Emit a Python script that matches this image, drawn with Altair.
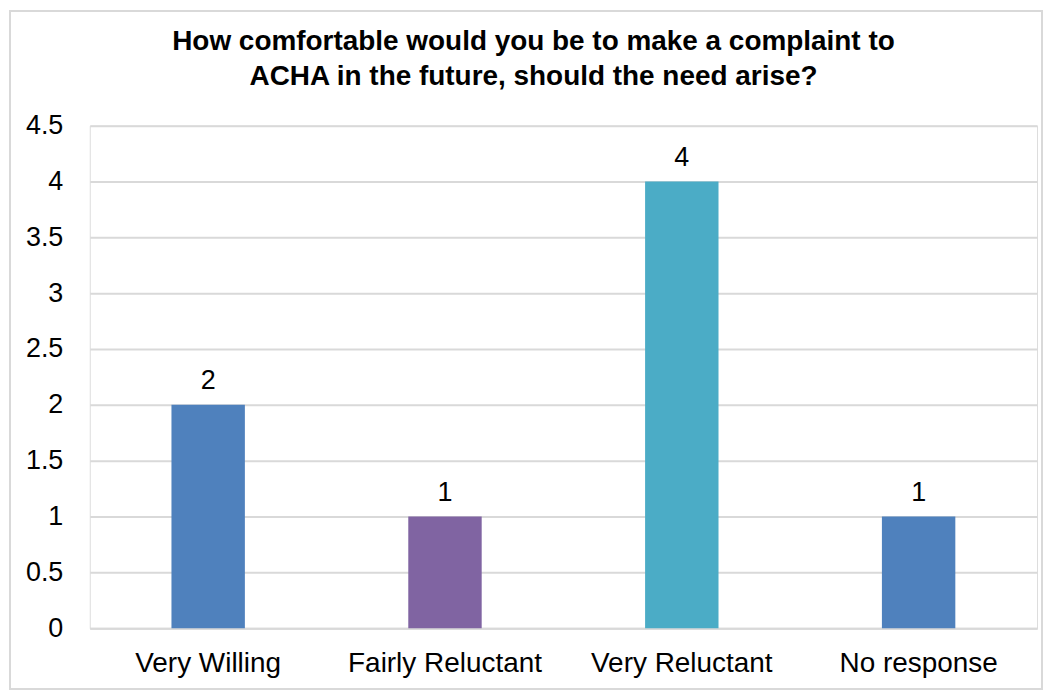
import altair as alt
import pandas as pd

categories = ["Very Willing", "Fairly Reluctant", "Very Reluctant", "No response"]
values = [2, 1, 4, 1]
colors = ["#4F81BD", "#8064A2", "#4BACC6", "#4F81BD"]
y_ticks = [0, 0.5, 1, 1.5, 2, 2.5, 3, 3.5, 4, 4.5]
title_lines = ["How comfortable would you be to make a complaint to",
               "ACHA in the future, should the need arise?"]

df = pd.DataFrame({"category": categories, "value": values, "color": colors})

FONT = "Liberation Sans"
W, H = 950, 504

x = alt.X("category:N", sort=categories, title=None,
          scale=alt.Scale(paddingInner=0.69, paddingOuter=0.345),
          axis=alt.Axis(labelAngle=0, labelFontSize=28, labelFont=FONT, labelColor="#000000",
                        labelPadding=21, labelLimit=0, ticks=False, domainColor="#d9d9d9", domainWidth=2))
y = alt.Y("value:Q", title=None,
          scale=alt.Scale(domain=[0, 4.5], nice=False),
          axis=alt.Axis(values=y_ticks, labelFontSize=27, labelFont=FONT, labelColor="#000000",
                        labelPadding=27, ticks=False, domain=False, gridColor="#d9d9d9",
                        gridWidth=2, labelExpr="datum.value"))

bars = alt.Chart(df).mark_bar().encode(
    x=x, y=y, color=alt.Color("color:N", scale=None)
)
labels = alt.Chart(df).mark_text(baseline="bottom", dy=-10, fontSize=27, font=FONT, color="#000000").encode(
    x=alt.X("category:N", sort=categories), y="value:Q", text="value:Q"
)
border = alt.Chart(df).mark_rect(fill=None, stroke="#d9d9d9", strokeWidth=2, clip=False).encode(
    x=alt.value(-80), x2=alt.value(955), y=alt.value(-115), y2=alt.value(565)
)
title = alt.Chart(pd.DataFrame({"t": ["\n".join(title_lines)]})).mark_text(
    fontSize=28, font=FONT, fontWeight="bold", color="#000000", align="center",
    baseline="alphabetic", lineBreak="\n", lineHeight=35
).encode(x=alt.value(445), y=alt.value(-76), text="t:N")

chart = alt.layer(border, bars, labels, title).properties(
    width=W, height=H,
    autosize=alt.AutoSizeParams(type="none"),
    padding={"left": 82, "top": 117, "right": 8, "bottom": 66},
).configure_view(stroke=None).configure(background="#ffffff")

chart.save("out.html", embed_options={"renderer": "svg", "actions": False})
